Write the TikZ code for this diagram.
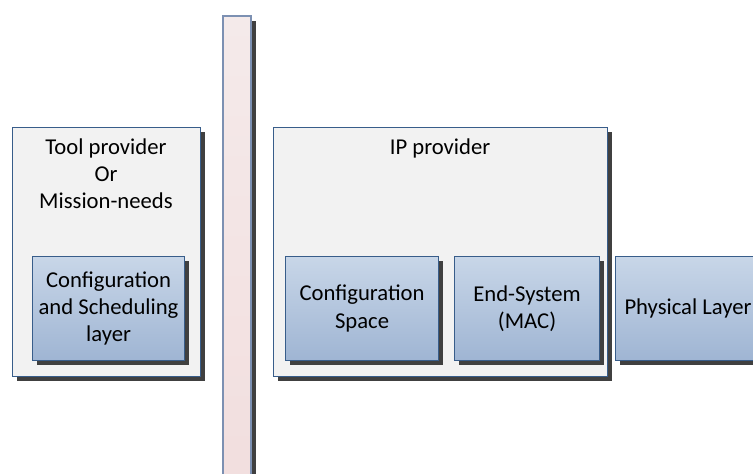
\documentclass[tikz,border=0pt]{standalone}
\usepackage{fontspec}
\setmainfont{Carlito}
\usetikzlibrary{shadows}
\definecolor{panelfill}{HTML}{F2F2F2}
\definecolor{edgeblue}{HTML}{385D8A}
\definecolor{shadowgrey}{HTML}{404040}
\definecolor{layertop}{HTML}{C8D6E8}
\definecolor{layerbot}{HTML}{9FB5D3}
\definecolor{bartop}{HTML}{F4EAEA}
\definecolor{barbot}{HTML}{F2DEDE}
\definecolor{baredge}{HTML}{7C90B2}
\tikzset{
  boxshadow/.style={general shadow={fill=shadowgrey,shadow xshift=3.5pt,shadow yshift=-3.5pt}},
  panel/.style={boxshadow,draw=edgeblue,line width=0.8pt,fill=panelfill,
    anchor=north west,inner sep=0pt},
  layerbox/.style={boxshadow,draw=edgeblue,line width=0.8pt,top color=layertop,
    bottom color=layerbot,anchor=north west,align=center,inner sep=0pt,
    minimum height=78pt},
  title/.style={anchor=north,align=center,inner sep=0pt}
}
\begin{document}
\begin{tikzpicture}[x=0.75pt,y=-0.75pt]
\fontsize{17}{20.5}\selectfont
\useasboundingbox (0,0) rectangle (753,474);
\clip (0,0) rectangle (753,474);
% left side
\node[panel,minimum width=141pt,minimum height=186.75pt] (tool) at (12,127) {};
\node[title] (toollabel) at (106,138) {Tool provider\\Or\\Mission-needs};
\node[layerbox,minimum width=114pt] (sched) at (32,256) {Configuration\\and Scheduling\\layer};
% separating bar
\node[boxshadow,draw=baredge,line width=1.5pt,top color=bartop,bottom color=barbot,
  anchor=north west,inner sep=0pt,minimum width=21pt,minimum height=360pt] (bar) at (222,15) {};
% right side
\node[panel,minimum width=250.5pt,minimum height=186.75pt] (ip) at (273,127) {};
\node[title] (iplabel) at (440,138) {IP provider};
\node[layerbox,minimum width=114.75pt] (space) at (285,256) {Configuration\\Space};
\node[layerbox,minimum width=108.75pt] (mac) at (454,256) {End-System\\(MAC)};
\node[layerbox,minimum width=108.75pt] (phy) at (615,256) {Physical Layer};
\end{tikzpicture}
\end{document}
